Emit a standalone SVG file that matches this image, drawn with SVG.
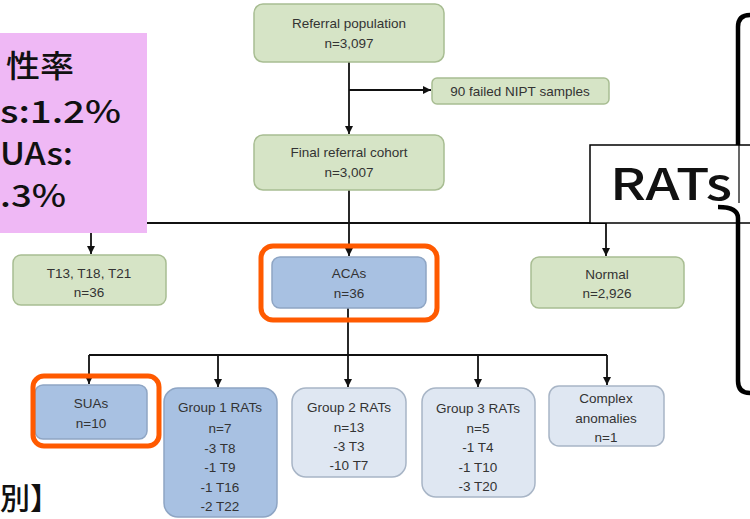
<svg xmlns="http://www.w3.org/2000/svg" width="750" height="519" viewBox="0 0 750 519">
<defs>
<marker id="arr" markerUnits="userSpaceOnUse" markerWidth="9" markerHeight="9" refX="8" refY="4.5" orient="auto">
<path d="M0,0.5 L8,4.5 L0,8.5 z" fill="#111"/>
</marker>
</defs>
<style>
.t{font-family:"Liberation Sans",Arial,sans-serif;font-size:13.5px;fill:#333;text-anchor:middle;dominant-baseline:central}
.g{fill:#d6e4c6;stroke:#a8bd92;stroke-width:1.5}
.db{fill:#a8c1e2;stroke:#8ea5c4;stroke-width:1.5}
.lb{fill:#dfe7f2;stroke:#a8b5c6;stroke-width:1.5}
.c{fill:none;stroke:#111;stroke-width:1.8}
.hl{fill:none;stroke:#ff5a00;stroke-width:5}
.j{font-family:"Noto Sans CJK JP","Noto Sans",sans-serif;font-weight:500;fill:#111}
</style>
<rect width="750" height="519" fill="#fff"/>
<g id="connectors">
<path class="c" d="M349,62 V134" marker-end="url(#arr)"/>
<path class="c" d="M349,90 H431" marker-end="url(#arr)"/>
<path class="c" d="M349,190 V256" marker-end="url(#arr)"/>
<path class="c" d="M91,223 H606"/>
<path class="c" d="M91,223 V254" marker-end="url(#arr)"/>
<path class="c" d="M606,223 V256" marker-end="url(#arr)"/>
<path class="c" d="M348,308 V355"/>
<path class="c" d="M89,355 H607"/>
<path class="c" d="M89,355 V384" marker-end="url(#arr)"/>
<path class="c" d="M218,355 V387" marker-end="url(#arr)"/>
<path class="c" d="M348,355 V387" marker-end="url(#arr)"/>
<path class="c" d="M478,355 V387" marker-end="url(#arr)"/>
<path class="c" d="M607,355 V385" marker-end="url(#arr)"/>
</g>
<g id="referral">
<rect class="g" x="254" y="4" width="190" height="58" rx="9"/>
<text class="t" x="349" y="23">Referral population</text>
<text class="t" x="349" y="43">n=3,097</text>
</g>
<g id="failed">
<rect class="g" x="432" y="78" width="177" height="26" rx="5"/>
<text class="t" x="520" y="91">90 failed NIPT samples</text>
</g>
<g id="final">
<rect class="g" x="254" y="135" width="190" height="55" rx="9"/>
<text class="t" x="349" y="152">Final referral cohort</text>
<text class="t" x="349" y="172">n=3,007</text>
</g>
<g id="t13">
<rect class="g" x="13" y="255" width="153" height="50" rx="8"/>
<text class="t" x="89" y="273">T13, T18, T21</text>
<text class="t" x="89" y="292">n=36</text>
</g>
<g id="acas">
<rect class="db" x="272" y="257" width="154" height="51" rx="8"/>
<text class="t" x="349" y="273">ACAs</text>
<text class="t" x="349" y="293">n=36</text>
</g>
<g id="normal">
<rect class="g" x="531" y="257" width="153" height="51" rx="8"/>
<text class="t" x="607" y="274">Normal</text>
<text class="t" x="607" y="293">n=2,926</text>
</g>
<g id="suas">
<rect class="db" x="35" y="385" width="112" height="54" rx="8"/>
<text class="t" x="91" y="403">SUAs</text>
<text class="t" x="91" y="423">n=10</text>
</g>
<g id="group1">
<rect class="db" x="164" y="388" width="113" height="129" rx="14"/>
<text class="t" x="220" y="407">Group 1 RATs</text>
<text class="t" x="220" y="428">n=7</text>
<text class="t" x="220" y="448">-3 T8</text>
<text class="t" x="220" y="467">-1 T9</text>
<text class="t" x="220" y="487">-1 T16</text>
<text class="t" x="220" y="506">-2 T22</text>
</g>
<g id="group2">
<rect class="lb" x="292" y="388" width="114" height="89" rx="14"/>
<text class="t" x="349" y="407">Group 2 RATs</text>
<text class="t" x="349" y="427">n=13</text>
<text class="t" x="349" y="446">-3 T3</text>
<text class="t" x="349" y="465">-10 T7</text>
</g>
<g id="group3">
<rect class="lb" x="422" y="388" width="113" height="109" rx="14"/>
<text class="t" x="478" y="408">Group 3 RATs</text>
<text class="t" x="478" y="428">n=5</text>
<text class="t" x="478" y="447">-1 T4</text>
<text class="t" x="478" y="467">-1 T10</text>
<text class="t" x="478" y="486">-3 T20</text>
</g>
<g id="complex">
<rect class="lb" x="549" y="386" width="115" height="60" rx="10"/>
<text class="t" x="606" y="398">Complex</text>
<text class="t" x="606" y="418">anomalies</text>
<text class="t" x="606" y="437">n=1</text>
</g>
<g id="highlights">
<rect class="hl" x="261" y="246" width="176" height="74" rx="12"/>
<rect class="hl" x="33" y="376" width="126" height="70" rx="11"/>
</g>
<g id="note-rate">
<rect x="0" y="33" width="147" height="200" fill="#efb8f5"/>
<text class="j" x="6" y="77" font-size="31" textLength="68" lengthAdjust="spacingAndGlyphs">性率</text>
<text class="j" x="0" y="123" font-size="31" textLength="121" lengthAdjust="spacingAndGlyphs">s:1.2%</text>
<text class="j" x="0" y="165" font-size="31" textLength="73" lengthAdjust="spacingAndGlyphs">UAs:</text>
<text class="j" x="0" y="207" font-size="31" textLength="66" lengthAdjust="spacingAndGlyphs">.3%</text>
</g>
<g id="rats-label">
<path d="M750,15 Q738,15 738,27 V200" fill="none" stroke="#000" stroke-width="4.5"/>
<rect x="590" y="145" width="170" height="78" fill="#fff" stroke="#000" stroke-width="1.5"/>
<line x1="739" y1="145" x2="739" y2="203" stroke="#000" stroke-width="1.2"/>
<text class="j" x="610" y="200" font-size="44" textLength="122" lengthAdjust="spacingAndGlyphs">RATs</text>
<path d="M718,207 Q738,207 738,218 V381 Q738,393 750,393" fill="none" stroke="#000" stroke-width="4.5"/>
</g>
<g id="note-bottom">
<text class="j" x="0" y="509" font-size="30" font-weight="700">別】</text>
</g>
</svg>
